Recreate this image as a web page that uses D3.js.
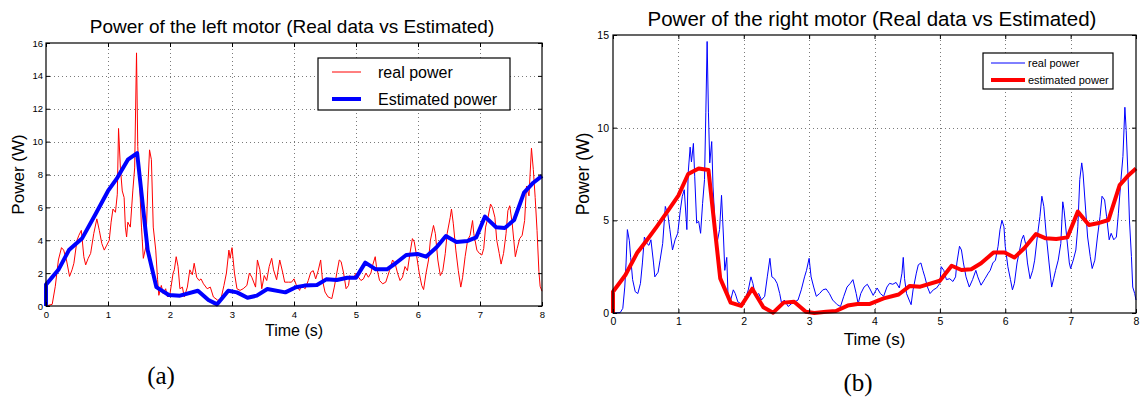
<!DOCTYPE html>
<html><head><meta charset="utf-8">
<script src="https://cdn.jsdelivr.net/npm/d3@7"></script>
<style>
html,body{margin:0;padding:0;background:#fff;}
svg{display:block;}
text{font-family:"Liberation Sans",Arial,Helvetica,sans-serif;fill:#000;}
</style></head>
<body>
<svg id="c" width="1140" height="397"></svg>
<script>
// ---------- data ----------
const leftTicksX = [0,1,2,3,4,5,6,7,8];
const leftTicksY = [0,2,4,6,8,10,12,14,16];
const rightTicksX = [0,1,2,3,4,5,6,7,8];
const rightTicksY = [0,5,10,15];

const leftRealT = [0,0.1,0.15,0.2,0.25,0.285,0.33,0.38,0.42,0.45,0.5,0.53,0.57,0.61,0.64,0.68,0.72,0.77,0.82,0.86,0.9,0.94,0.98,1.02,1.05,1.08,1.12,1.15,1.17,1.2,1.23,1.26,1.28,1.3,1.32,1.36,1.4,1.43,1.46,1.48,1.51,1.54,1.57,1.61,1.64,1.67,1.7,1.73,1.77,1.8,1.82,1.86,1.89,1.93,1.96,2.0,2.05,2.07,2.1,2.13,2.16,2.2,2.23,2.28,2.32,2.36,2.39,2.43,2.47,2.5,2.54,2.6,2.65,2.7,2.77,2.82,2.87,2.91,2.95,2.97,3.0,3.04,3.08,3.13,3.18,3.24,3.28,3.32,3.38,3.41,3.45,3.48,3.52,3.56,3.6,3.64,3.67,3.72,3.77,3.82,3.85,3.91,3.96,4.0,4.04,4.09,4.12,4.18,4.23,4.27,4.31,4.35,4.39,4.43,4.46,4.5,4.55,4.61,4.65,4.69,4.73,4.76,4.8,4.84,4.88,4.9,4.95,5.0,5.04,5.08,5.12,5.16,5.2,5.24,5.27,5.31,5.33,5.38,5.43,5.48,5.54,5.59,5.63,5.67,5.71,5.75,5.79,5.83,5.87,5.91,5.94,5.98,6.02,6.06,6.09,6.13,6.17,6.2,6.25,6.28,6.32,6.36,6.4,6.44,6.47,6.52,6.54,6.57,6.61,6.65,6.69,6.72,6.76,6.8,6.84,6.88,6.9,6.95,6.99,7.03,7.06,7.09,7.13,7.17,7.2,7.24,7.27,7.31,7.34,7.38,7.42,7.45,7.48,7.52,7.57,7.6,7.64,7.68,7.72,7.75,7.79,7.83,7.86,7.89,7.92,7.95,7.97,8.0];
const leftRealP = [0,0.1,1.2,2.8,3.55,3.4,2.8,1.8,2.2,2.6,4.0,4.3,4.6,3.0,2.5,2.9,3.2,4.4,5.3,4.6,3.8,3.4,3.7,4.0,5.1,5.9,5.7,6.8,10.8,8.4,7.0,6.6,4.8,4.2,5.1,4.8,7.0,8.4,15.4,9.7,7.4,4.8,2.9,3.6,7.0,9.5,8.9,4.8,3.4,1.6,0.65,1.25,0.75,1.05,0.55,0.75,2.0,2.2,3.0,2.4,1.05,1.15,0.55,1.15,2.2,1.9,2.6,1.75,1.55,1.65,1.35,1.05,1.15,0.55,0.35,0.4,1.25,2.0,3.4,2.9,3.55,2.0,1.05,0.95,1.05,1.25,2.0,1.75,1.15,2.8,2.2,1.05,1.85,1.55,2.4,2.9,2.2,1.6,2.8,2.0,1.45,1.45,1.45,1.65,1.25,0.95,1.25,1.05,1.55,2.05,2.15,1.65,2.15,2.8,1.55,0.85,0.55,0.45,1.15,2.0,2.8,2.7,2.0,1.05,1.25,1.85,1.65,2.0,1.75,1.55,1.65,2.0,1.75,2.0,2.5,3.0,2.4,1.55,1.35,1.45,2.15,2.8,2.6,2.0,1.55,1.75,2.4,2.15,3.2,4.1,3.9,3.0,2.0,1.25,1.0,2.0,2.8,4.0,4.9,4.4,2.8,1.85,2.15,3.2,4.4,5.4,5.9,5.0,3.4,2.15,1.15,1.75,3.0,4.0,4.3,5.2,4.4,3.4,3.2,3.1,3.5,4.8,5.4,6.2,6.0,5.4,4.0,3.2,2.55,3.2,4.4,5.8,6.1,5.0,3.0,3.5,4.1,4.3,5.2,7.3,6.7,9.6,8.3,6.6,4.6,2.1,1.2,0.9];

const leftEstT = [0,0,0.2,0.37,0.58,0.8,1.0,1.15,1.32,1.47,1.64,1.78,1.98,2.16,2.45,2.62,2.76,2.94,3.08,3.25,3.4,3.57,3.86,4.03,4.17,4.37,4.52,4.69,4.86,5.0,5.15,5.32,5.5,5.64,5.81,5.99,6.13,6.3,6.45,6.62,6.8,6.94,7.08,7.26,7.4,7.55,7.71,7.86,8.0];
const leftEstP = [0,1.3,2.2,3.4,4.1,5.6,7.0,7.8,8.9,9.3,3.4,1.15,0.67,0.63,0.93,0.37,0.1,0.93,0.83,0.5,0.63,1.03,0.83,1.14,1.24,1.28,1.62,1.58,1.72,1.72,2.64,2.23,2.23,2.6,3.1,3.17,3.0,3.57,4.26,3.9,3.96,4.18,5.44,4.79,4.75,5.23,6.9,7.5,7.92];

const rightRealT = [0,0.11,0.15,0.18,0.2,0.22,0.25,0.27,0.3,0.34,0.38,0.42,0.45,0.48,0.52,0.55,0.58,0.62,0.64,0.69,0.72,0.76,0.8,0.84,0.87,0.91,0.95,0.99,1.03,1.06,1.09,1.13,1.15,1.18,1.2,1.23,1.25,1.28,1.31,1.34,1.37,1.4,1.42,1.44,1.46,1.48,1.51,1.53,1.56,1.59,1.63,1.66,1.69,1.71,1.74,1.76,1.8,1.84,1.87,1.91,1.96,2.02,2.07,2.11,2.14,2.18,2.23,2.27,2.32,2.36,2.4,2.43,2.47,2.51,2.55,2.58,2.62,2.68,2.73,2.78,2.83,2.88,2.93,2.96,3.0,3.03,3.07,3.11,3.16,3.21,3.26,3.31,3.36,3.43,3.48,3.53,3.58,3.63,3.67,3.72,3.75,3.79,3.84,3.89,3.93,3.98,4.04,4.09,4.14,4.19,4.23,4.28,4.33,4.38,4.42,4.44,4.46,4.49,4.53,4.56,4.59,4.64,4.67,4.71,4.74,4.77,4.81,4.85,4.9,4.95,5.0,5.02,5.06,5.1,5.15,5.2,5.24,5.26,5.3,5.33,5.36,5.4,5.45,5.5,5.55,5.58,5.63,5.69,5.74,5.77,5.81,5.85,5.89,5.92,5.95,5.98,6.0,6.04,6.08,6.11,6.14,6.18,6.22,6.25,6.28,6.31,6.34,6.38,6.42,6.45,6.49,6.53,6.56,6.59,6.63,6.67,6.71,6.74,6.77,6.81,6.85,6.88,6.9,6.94,6.98,7.0,7.04,7.08,7.11,7.14,7.17,7.19,7.23,7.26,7.3,7.33,7.37,7.41,7.45,7.48,7.52,7.55,7.59,7.62,7.66,7.7,7.73,7.77,7.8,7.83,7.85,7.88,7.9,7.93,7.95,7.98,8.0];
const rightRealP = [0,0.02,0.25,1.4,2.7,4.5,3.9,3.0,1.8,1.15,1.05,1.6,2.7,4.1,3.75,3.65,3.95,2.7,1.95,2.2,2.85,3.75,5.75,5.3,4.5,3.4,3.95,4.3,5.55,6.3,6.65,4.5,7.55,8.95,8.15,9.15,7.35,4.85,4.95,4.3,5.9,7.2,10.8,14.65,10.8,8.1,9.25,6.8,4.85,3.75,4.5,6.35,4.1,2.3,3.0,0.9,0.7,1.25,1.05,0.6,0.5,0.7,1.25,1.95,1.6,0.9,1.05,0.7,0.9,1.95,2.95,1.95,1.85,1.6,1.05,0.5,0.7,0.35,0.5,0.6,0.7,1.25,1.95,2.3,2.95,1.95,1.4,0.9,1.05,1.25,1.3,1.05,0.7,0.45,0.35,0.9,1.4,1.6,1.8,1.05,0.5,1.05,1.4,1.55,1.3,0.95,1.35,1.05,0.9,1.4,1.6,1.55,1.65,1.35,2.15,3.0,1.85,1.05,0.7,0.45,1.25,2.15,2.6,2.7,2.3,1.95,1.4,1.05,1.25,1.35,1.6,2.5,2.3,1.8,1.85,1.7,1.95,2.7,3.6,3.4,2.7,1.95,1.4,1.8,2.3,1.95,1.5,1.85,2.15,2.3,2.7,2.85,3.6,4.5,5.0,4.65,3.6,2.5,1.8,1.25,1.6,2.7,3.4,3.95,4.2,3.75,2.7,1.85,2.3,2.85,4.1,5.2,6.3,5.75,4.1,2.7,1.4,1.85,2.3,2.85,3.75,6.0,5.55,4.1,2.7,2.4,2.85,3.4,4.65,7.2,8.1,7.55,5.55,4.1,3.05,2.4,2.85,4.1,5.2,6.3,6.1,5.2,3.95,4.3,3.95,4.1,5.35,7.2,8.45,11.1,9.85,7.2,5.0,3.05,1.4,1.05,0.7];

const rightEstT = [0,0,0.19,0.37,0.52,0.67,0.85,1.0,1.15,1.31,1.46,1.64,1.8,1.96,2.13,2.3,2.45,2.61,2.77,2.95,3.08,3.26,3.41,3.59,3.74,3.93,4.14,4.37,4.54,4.7,5.0,5.18,5.33,5.48,5.63,5.82,5.99,6.14,6.29,6.47,6.62,6.78,6.95,7.11,7.28,7.41,7.58,7.75,7.89,8.0];
const rightEstP = [0,1.15,2.05,3.25,3.94,4.66,5.56,6.33,7.5,7.8,7.72,1.87,0.56,0.38,1.31,0.31,0.02,0.56,0.61,0.07,0.0,0.07,0.11,0.4,0.49,0.49,0.79,1.0,1.46,1.42,1.74,2.55,2.32,2.36,2.68,3.26,3.26,2.99,3.49,4.26,4.03,3.99,4.08,5.47,4.75,4.84,5.02,6.9,7.45,7.8];

const leftTitle = "Power of the left motor (Real data vs Estimated)";
const rightTitle = "Power of the right motor (Real data vs Estimated)";
const leftLegend = ["real power", "Estimated power"];
const rightLegend = ["real power", "estimated power"];
const xLabel = "Time (s)";
const yLabel = "Power (W)";
const captions = ["(a)", "(b)"];

// ---------- drawing ----------
const svg = d3.select("#c");

function panel(cfg){
  const g = svg.append("g");
  const x = d3.scaleLinear().domain([0,8]).range([cfg.x0, cfg.x1]);
  const y = d3.scaleLinear().domain([0, cfg.ymax]).range([cfg.y0, cfg.y1]);
  // grid
  g.append("g").selectAll("line").data(cfg.ticksX.slice(1,-1)).join("line")
    .attr("x1", d=>Math.round(x(d))+0.5).attr("x2", d=>Math.round(x(d))+0.5).attr("y1", cfg.y0).attr("y2", cfg.y1)
    .attr("stroke","#7a7a7a").attr("stroke-width",1).attr("stroke-dasharray","1,3");
  g.append("g").selectAll("line").data(cfg.ticksY.slice(1,-1)).join("line")
    .attr("y1", d=>Math.round(y(d))+0.5).attr("y2", d=>Math.round(y(d))+0.5).attr("x1", cfg.x0).attr("x2", cfg.x1)
    .attr("stroke","#7a7a7a").attr("stroke-width",1).attr("stroke-dasharray","1,3");

  const line = d3.line().x(d=>x(d[0])).y(d=>y(d[1])).curve(d3.curveLinear);
  const real = cfg.realT.map((t,i)=>[t, cfg.realP[i]]);
  const est = cfg.estT.map((t,i)=>[t, cfg.estP[i]]);
  g.append("path").datum(real).attr("d", line).attr("fill","none")
    .attr("stroke", cfg.realColor).attr("stroke-width", 1).attr("stroke-linejoin","round");
  g.append("path").datum(est).attr("d", line).attr("fill","none")
    .attr("stroke", cfg.estColor).attr("stroke-width", 4).attr("stroke-linejoin","round");

  // axes (ticks inward on all sides)
  const tl = 4;
  const axB = g.append("g").attr("transform",`translate(0,${cfg.y0})`)
    .call(d3.axisBottom(x).tickValues(cfg.ticksX).tickSize(-tl).tickPadding(cfg.xPad).tickFormat(d3.format("d")));
  const axT = g.append("g").attr("transform",`translate(0,${cfg.y1})`)
    .call(d3.axisTop(x).tickValues(cfg.ticksX).tickSize(-tl).tickFormat(""));
  const axL = g.append("g").attr("transform",`translate(${cfg.x0},0)`)
    .call(d3.axisLeft(y).tickValues(cfg.ticksY).tickSize(-tl).tickPadding(cfg.yPad).tickFormat(d3.format("d")));
  const axR = g.append("g").attr("transform",`translate(${cfg.x1},0)`)
    .call(d3.axisRight(y).tickValues(cfg.ticksY).tickSize(-tl).tickFormat(""));
  [axB,axT,axL,axR].forEach(a=>{
    a.select(".domain").remove();
    a.selectAll("line").attr("stroke","#000");
    a.selectAll("text").attr("font-size", cfg.tickFont).attr("font-family","Liberation Sans, Arial, sans-serif");
  });
  // frame
  g.append("rect").attr("x", cfg.x0).attr("y", cfg.y1).attr("width", cfg.x1-cfg.x0).attr("height", cfg.y0-cfg.y1)
    .attr("fill","none").attr("stroke","#000").attr("stroke-width",1.2);

  // title & labels
  g.append("text").attr("x", cfg.titleX).attr("y", cfg.titleY).attr("text-anchor","middle")
    .attr("font-size", cfg.titleFont).text(cfg.title);
  g.append("text").attr("x", (cfg.x0+cfg.x1)/2).attr("y", cfg.xlabY).attr("text-anchor","middle")
    .attr("font-size", cfg.xlabFont).text(xLabel);
  g.append("text").attr("transform",`translate(${cfg.ylabX},${(cfg.y0+cfg.y1)/2}) rotate(-90)`)
    .attr("text-anchor","middle").attr("font-size", cfg.ylabFont).text(yLabel);

  // legend
  const L = cfg.legend;
  g.append("rect").attr("x", L.x).attr("y", L.y).attr("width", L.w).attr("height", L.h)
    .attr("fill","#fff").attr("stroke","#000").attr("stroke-width",1.2);
  const items = [[cfg.legendText[0], cfg.realColor, 1],[cfg.legendText[1], cfg.estColor, 4]];
  items.forEach((it,i)=>{
    const yy = L.y + L.rows[i];
    g.append("line").attr("x1", L.x+L.lx0).attr("x2", L.x+L.lx1).attr("y1", yy).attr("y2", yy)
      .attr("stroke", it[1]).attr("stroke-width", it[2]);
    g.append("text").attr("x", L.x+L.tx).attr("y", yy).attr("dy","0.35em")
      .attr("font-size", L.font).text(it[0]);
  });
}

panel({x0:46, x1:542, y0:306, y1:43, ymax:16, ticksX:leftTicksX, ticksY:leftTicksY,
  realT:leftRealT, realP:leftRealP, estT:leftEstT, estP:leftEstP,
  realColor:"#ff0000", estColor:"#0000ff", tickFont:"9.5px", xPad:5, yPad:3,
  title:leftTitle, titleX:292, titleY:32.5, titleFont:"19px",
  xlabY:336, xlabFont:"16px", ylabX:24, ylabFont:"17px",
  legendText:leftLegend,
  legend:{x:318, y:58, w:192, h:52, rows:[14,41], lx0:14, lx1:43, tx:60, font:"16px"}});

panel({x0:613, x1:1136, y0:313, y1:35, ymax:15, ticksX:rightTicksX, ticksY:rightTicksY,
  realT:rightRealT, realP:rightRealP, estT:rightEstT, estP:rightEstP,
  realColor:"#0000ff", estColor:"#ff0000", tickFont:"10.5px", xPad:5, yPad:4,
  title:rightTitle, titleX:872, titleY:26, titleFont:"20.5px",
  xlabY:345, xlabFont:"17px", ylabX:589, ylabFont:"17.5px",
  legendText:rightLegend,
  legend:{x:983, y:53, w:130, h:36, rows:[10,27], lx0:8, lx1:42, tx:45, font:"11px"}});

// captions
svg.append("text").attr("x",161).attr("y",384).attr("text-anchor","middle")
  .style("font-family","Liberation Serif, serif").attr("font-size","25px").text(captions[0]);
svg.append("text").attr("x",858).attr("y",391).attr("text-anchor","middle")
  .style("font-family","Liberation Serif, serif").attr("font-size","25px").text(captions[1]);
</script>
</body></html>
